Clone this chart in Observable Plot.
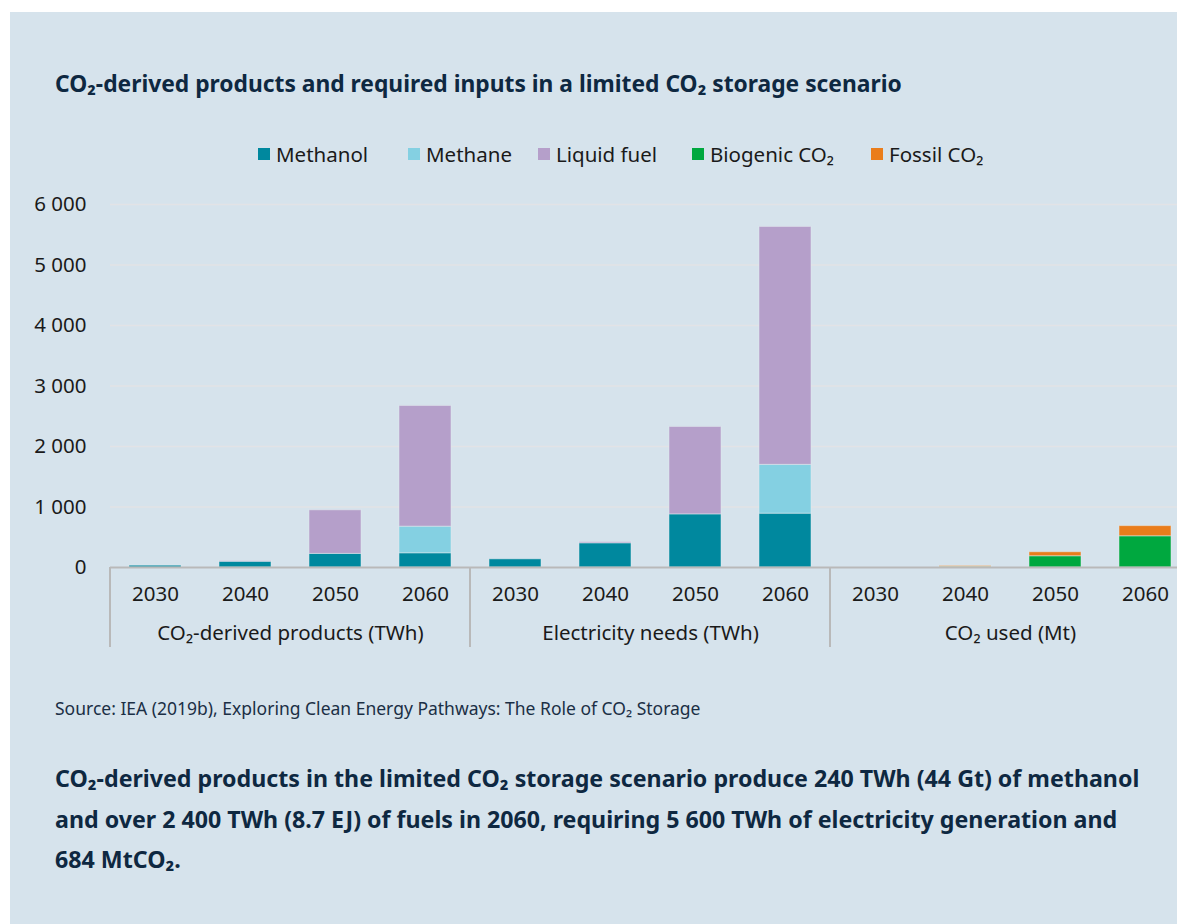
<!DOCTYPE html>
<html>
<head>
<meta charset="utf-8">
<script src="https://cdn.jsdelivr.net/npm/d3@7"></script>
<script src="https://cdn.jsdelivr.net/npm/@observablehq/plot@0.6"></script>
<style>
  html, body { margin: 0; padding: 0; background: #ffffff; overflow: hidden; width: 1177px; height: 924px; }
  #panel { position: absolute; left: 10px; top: 12px; width: 1200px; height: 950px; background: #d6e3ec; }
  .abs { position: absolute; white-space: nowrap; }
  #title { left: 45px; top: 60px; font-family: "Noto Sans", sans-serif; font-weight: 700; font-size: 22.8px; color: #0e2841; line-height: 24px; }
  .item { position: absolute; top: 130px; display: flex; align-items: center; font-family: "Noto Sans", sans-serif; font-size: 20.5px; color: #1a1a1a; line-height: 24px; white-space: nowrap; }
  .sw { width: 12px; height: 12px; margin-right: 6px; }
  #chart { left: 0px; top: 168px; }
  #source { left: 45px; top: 685px; font-family: "Noto Sans", sans-serif; font-size: 17.5px; color: #1b2f45; line-height: 22px; }
  #caption { left: 45px; top: 746px; font-family: "Noto Sans", sans-serif; font-weight: 700; font-size: 23.2px; color: #0e2841; line-height: 40.5px; }
</style>
</head>
<body>
<div id="panel">
  <div id="title" class="abs">CO₂-derived products and required inputs in a limited CO₂ storage scenario</div>
  <div id="legend"></div>
  <div id="chart" class="abs"></div>
  <div id="source" class="abs">Source: IEA (2019b), Exploring Clean Energy Pathways: The Role of CO₂ Storage</div>
  <div id="caption" class="abs">CO₂-derived products in the limited CO₂ storage scenario produce 240 TWh (44 Gt) of methanol<br>and over 2 400 TWh (8.7 EJ) of fuels in 2060, requiring 5 600 TWh of electricity generation and<br>684 MtCO₂.</div>
</div>
<script>
// ---- Data ----
const groups = ["CO₂-derived products (TWh)", "Electricity needs (TWh)", "CO₂ used (Mt)"];
const years = ["2030", "2040", "2050", "2060"];
const seriesNames = ["Methanol", "Methane", "Liquid fuel", "Biogenic CO₂", "Fossil CO₂"];
const seriesColors = ["#00889e", "#84d0e2", "#b59fca", "#00a83f", "#ea7d1b"];
const yTicks = [0, 1000, 2000, 3000, 4000, 5000, 6000];

// values per year (2030, 2040, 2050, 2060)
const methanolProducts = [30, 95, 225, 235];
const methaneProducts = [0, 0, 0, 440];
const liquidProducts = [0, 10, 720, 1995];
const methanolElectricity = [135, 400, 878, 890];
const methaneElectricity = [0, 0, 0, 807];
const liquidElectricity = [0, 20, 1445, 3932];
const biogenicCO2 = [0, 10, 186, 516];
const fossilCO2 = [0, 15, 66, 168];

const seriesByGroup = [
  [["Methanol", methanolProducts], ["Methane", methaneProducts], ["Liquid fuel", liquidProducts]],
  [["Methanol", methanolElectricity], ["Methane", methaneElectricity], ["Liquid fuel", liquidElectricity]],
  [["Biogenic CO₂", biogenicCO2], ["Fossil CO₂", fossilCO2]]
];

const table = [];
seriesByGroup.forEach((list, gi) => {
  list.forEach(([series, vals]) => {
    vals.forEach((v, yi) => table.push({group: groups[gi], year: years[yi], series, value: v}));
  });
});

// ---- Legend ----
const legendLefts = [248, 398, 528, 682, 861];
const legend = document.getElementById("legend");
seriesNames.forEach((s, i) => {
  const it = document.createElement("div");
  it.className = "item";
  it.style.left = legendLefts[i] + "px";
  it.innerHTML = `<div class="sw" style="background:${seriesColors[i]}"></div><span>${s}</span>`;
  legend.appendChild(it);
});

// ---- Chart ----
const fmt = d => d3.format(",")(d).replace(/,/g, " ");
const W = 1200, H = 490;
const FS = 20.5;
const plot = Plot.plot({
  width: W,
  height: H,
  marginLeft: 100,
  marginRight: 20,
  marginTop: 24,
  marginBottom: 103,
  style: {fontFamily: "'Noto Sans', sans-serif", fontSize: FS + "px", background: "transparent", color: "#1a1a1a", overflow: "visible"},
  fx: {domain: groups, padding: 0},
  x: {domain: years, paddingInner: 0.42, paddingOuter: 0.21},
  y: {domain: [0, 6000]},
  color: {domain: seriesNames, range: seriesColors},
  marks: [
    Plot.gridY(yTicks.filter(d => d > 0), {stroke: "#e2e3e6", strokeOpacity: 1, strokeWidth: 1.5}),
    Plot.barY(table, {fx: "group", x: "year", y: "value", fill: "series", order: seriesNames, stroke: "#e6edf2", strokeOpacity: 0.5, strokeWidth: 1}),
    Plot.ruleY([0], {stroke: "#b9b9b9", strokeWidth: 2}),
    Plot.axisY({ticks: yTicks, tickFormat: fmt, tickSize: 0, tickPadding: 24, label: null, fontSize: FS}),
    Plot.axisX({tickSize: 0, tickPadding: 19, label: null, fontSize: FS}),
    Plot.axisFx({anchor: "bottom", tickSize: 0, tickPadding: 58, label: null, fontSize: FS})
  ]
});
document.getElementById("chart").appendChild(plot);

// group separators drawn from the library's scales
const fx = plot.scale("fx");
const ys = plot.scale("y");
const y0 = ys.apply(0);
const bw = fx.bandwidth;
const xs = groups.map(g => fx.apply(g));
xs.push(xs[xs.length - 1] + bw);
const svg = d3.select(plot);
svg.append("g").selectAll("line").data(xs).join("line")
  .attr("x1", d => d).attr("x2", d => d)
  .attr("y1", y0).attr("y2", y0 + 80)
  .attr("stroke", "#b9b9b9").attr("stroke-width", 2);
</script>
</body>
</html>
